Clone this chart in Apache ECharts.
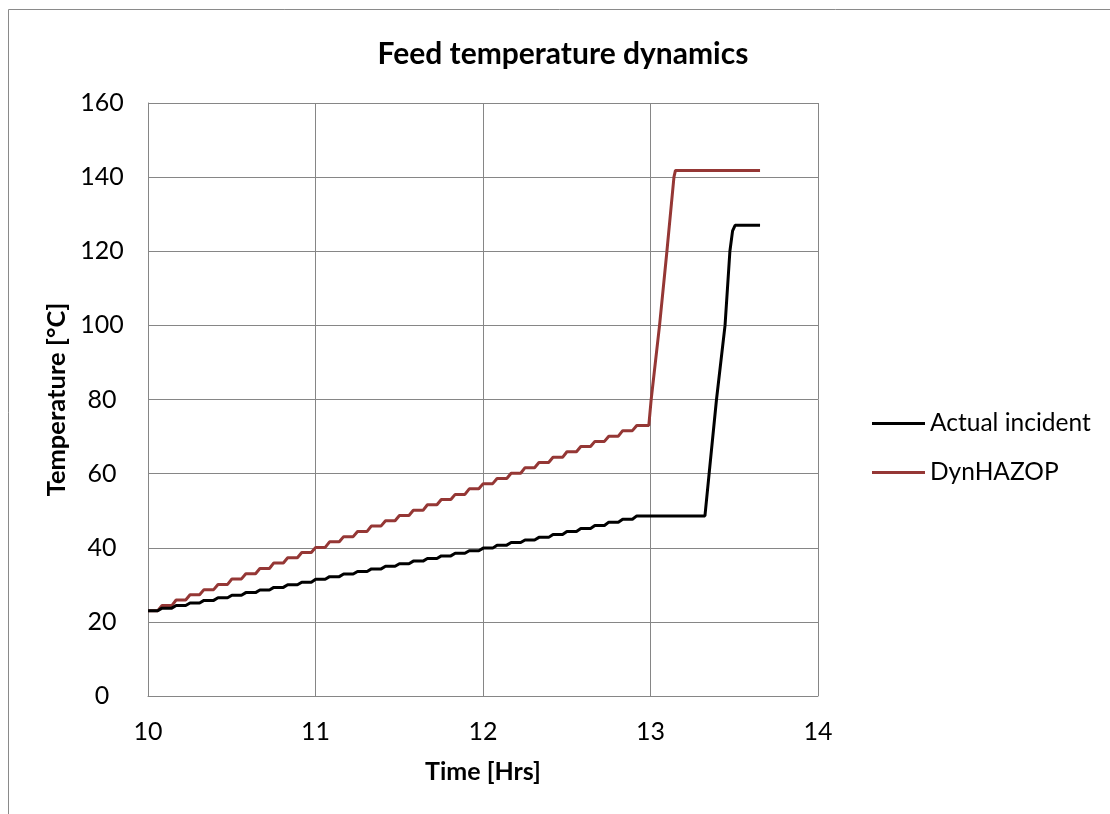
<!DOCTYPE html>
<html>
<head>
<meta charset="utf-8">
<script src="https://cdn.jsdelivr.net/npm/echarts@6/dist/echarts.min.js"></script>
<style>
html,body{margin:0;padding:0;background:#fff;}
#chart{width:1110px;height:814px;}
</style>
</head>
<body>
<div id="chart"></div>
<script>
// Step onset times (hrs) – each 5-minute step starts here
var stepTimes = [10.058, 10.142, 10.225, 10.308, 10.392, 10.475, 10.558, 10.642, 10.725, 10.808,
  10.892, 10.975, 11.058, 11.142, 11.225, 11.308, 11.392, 11.475, 11.558, 11.642,
  11.725, 11.808, 11.892, 11.975, 12.058, 12.142, 12.225, 12.308, 12.392, 12.475,
  12.558, 12.642, 12.725, 12.808, 12.892];
var rampDuration = 0.026;
// Levels before the first step and after each step (°C)
var dynHazopLevels = [23.0, 24.4, 25.9, 27.3, 28.7, 30.1, 31.6, 33.0, 34.4, 35.9, 37.3, 38.7,
  40.1, 41.6, 43.0, 44.4, 45.9, 47.3, 48.7, 50.1, 51.6, 53.0, 54.4, 55.9, 57.3, 58.7,
  60.1, 61.6, 63.0, 64.4, 65.9, 67.3, 68.7, 70.1, 71.6, 73.0];
var actualLevels = [23.0, 23.7, 24.4, 25.1, 25.8, 26.5, 27.2, 27.9, 28.6, 29.3, 30.0, 30.7,
  31.5, 32.2, 32.9, 33.6, 34.3, 35.0, 35.7, 36.4, 37.1, 37.8, 38.5, 39.2, 39.9, 40.7,
  41.4, 42.1, 42.8, 43.6, 44.4, 45.2, 46.0, 46.9, 47.7, 48.6];
// Final excursions [time, value]
var dynHazopTail = [[12.990, 73.0], [13.004, 80], [13.054, 100], [13.098, 120], [13.140, 140], [13.149, 141.8], [13.654, 141.8]];
var actualTail = [[13.325, 48.6], [13.350, 60], [13.394, 80], [13.445, 100], [13.474, 120], [13.490, 125.5], [13.505, 127.0], [13.654, 127.0]];
var startTime = 10.0;
var seriesNames = ['Actual incident', 'DynHAZOP'];
var xTicks = [10, 11, 12, 13, 14];
var yTicks = [0, 20, 40, 60, 80, 100, 120, 140, 160];

function buildSeries(levels, tail) {
  var pts = [[startTime, levels[0]]];
  for (var i = 0; i < stepTimes.length; i++) {
    pts.push([stepTimes[i], levels[i]]);
    pts.push([stepTimes[i] + rampDuration, levels[i + 1]]);
  }
  return pts.concat(tail);
}

var FONT = 'Lato';
var chart = echarts.init(document.getElementById('chart'), null, {renderer: 'canvas'});
chart.setOption({
  animation: false,
  backgroundColor: '#ffffff',
  title: {
    text: 'Feed temperature dynamics',
    left: 563, top: 39, textAlign: 'center', padding: 0,
    textStyle: {fontFamily: FONT, fontWeight: 'bold', fontSize: 30, color: '#000'}
  },
  graphic: [{
    type: 'rect', silent: true,
    shape: {x: 8.5, y: 9.5, width: 1300, height: 1000},
    style: {fill: 'none', stroke: '#8a8a8a', lineWidth: 1}
  }],
  legend: {
    orient: 'vertical', left: 872, top: 411, padding: 0,
    itemWidth: 53, itemHeight: 3, itemGap: 24,
    icon: 'rect',
    textStyle: {fontFamily: FONT, fontSize: 24.5, color: '#000', lineHeight: 25},
    data: seriesNames
  },
  grid: {left: 148, top: 103, right: 292, bottom: 118, containLabel: false},
  xAxis: {
    type: 'value', min: xTicks[0], max: xTicks[xTicks.length - 1], interval: 1,
    name: 'Time [Hrs]', nameLocation: 'middle', nameGap: 63,
    nameTextStyle: {fontFamily: FONT, fontWeight: 'bold', fontSize: 25, color: '#000'},
    axisLine: {lineStyle: {color: '#868686', width: 1}},
    axisTick: {show: false},
    axisLabel: {fontFamily: FONT, fontSize: 25, color: '#000', margin: 23},
    splitLine: {show: true, lineStyle: {color: '#868686', width: 1}}
  },
  yAxis: {
    type: 'value', min: yTicks[0], max: yTicks[yTicks.length - 1], interval: 20,
    name: 'Temperature [°C]', nameLocation: 'middle', nameGap: 74, nameRotate: 90,
    nameTextStyle: {fontFamily: FONT, fontWeight: 'bold', fontSize: 25.5, color: '#000'},
    axisLine: {show: true, lineStyle: {color: '#868686', width: 1}},
    axisTick: {show: false},
    axisLabel: {fontFamily: FONT, fontSize: 25, color: '#000', margin: 46, align: 'center'},
    splitLine: {show: true, lineStyle: {color: '#868686', width: 1}}
  },
  series: [
    {
      name: seriesNames[0], type: 'line', data: buildSeries(actualLevels, actualTail),
      showSymbol: false, symbol: 'none', z: 3,
      lineStyle: {color: '#000000', width: 3}, itemStyle: {color: '#000000'}
    },
    {
      name: seriesNames[1], type: 'line', data: buildSeries(dynHazopLevels, dynHazopTail),
      showSymbol: false, symbol: 'none', z: 2,
      lineStyle: {color: '#953735', width: 3}, itemStyle: {color: '#953735'}
    }
  ]
});
</script>
</body>
</html>
